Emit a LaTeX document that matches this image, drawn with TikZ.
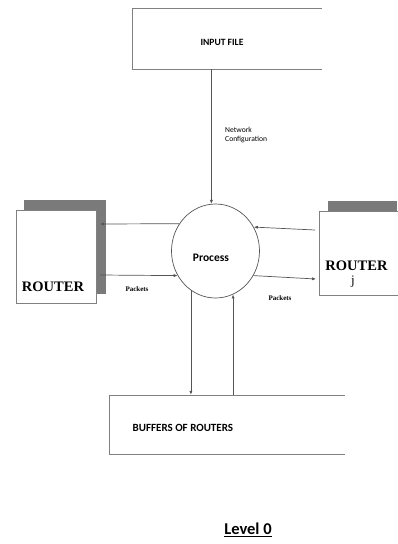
\documentclass[tikz,border=0pt]{standalone}
\usepackage{fontspec}
\setmainfont{Liberation Serif}
\newfontfamily\calib{Carlito}
\usetikzlibrary{arrows.meta,shapes.geometric}
\definecolor{linegray}{HTML}{555555}
\definecolor{boxgray}{HTML}{808080}
\definecolor{shadowgray}{HTML}{7A7A7A}
\tikzset{
  flow/.style={draw=linegray, line width=0.7pt, -{Latex[length=4pt,width=3.2pt]}},
  storeline/.style={draw=boxgray, line width=0.8pt},
  sanslabel/.style={font=\calib\bfseries\fontsize{9.6}{10}\selectfont, inner sep=0pt},
  smalllabel/.style={font=\calib\fontsize{7.6}{10}\selectfont, inner sep=0pt, align=left},
  pktlabel/.style={font=\bfseries\fontsize{7}{8}\selectfont, inner sep=0pt},
  routerlabel/.style={font=\bfseries\fontsize{14.5}{15}\selectfont, inner sep=0pt},
}
\begin{document}
\begin{tikzpicture}[x=1pt,y=-1pt]
\useasboundingbox (0,0) rectangle (397,544);
% input file store
\node[minimum width=190pt, minimum height=61pt, inner sep=0pt] (input) at (227,38.5) {};
\draw[storeline] (322,8) -- (132,8) -- (132,69) -- (322,69);
\node[sanslabel] (inputtext) at (222,42) {INPUT FILE};
% buffer store
\node[minimum width=236pt, minimum height=59pt, inner sep=0pt] (buffer) at (227,424.5) {};
\draw[storeline] (345,395) -- (109,395) -- (109,454) -- (345,454);
\node[sanslabel, font=\calib\bfseries\fontsize{11}{12}\selectfont, anchor=west] (buftext) at (132.5,427.5) {BUFFERS OF ROUTERS};
% process
\node[ellipse, draw=linegray, line width=0.7pt, minimum width=88pt, minimum height=94pt, inner sep=0pt] (proc) at (215.5,251) {};
\node[font=\calib\bfseries\fontsize{11.5}{12}\selectfont, inner sep=0pt] (proctext) at (211,258) {Process};
% left router
\fill[shadowgray] (24,200) rectangle (106,294);
\node[draw=boxgray, fill=white, line width=0.8pt, minimum width=80pt, minimum height=93pt, inner sep=0pt] (lrouter) at (56,256.5) {};
\node[routerlabel] (lrtext) at (53,287) {ROUTER};
% right router
\fill[shadowgray] (328,201) rectangle (397,211);
\node[minimum width=78pt, minimum height=84pt, inner sep=0pt] (rrouter) at (358,253) {};
\draw[draw=boxgray, line width=0.8pt] (400,211) -- (319,211) -- (319,295) -- (400,295);
\node[routerlabel] (rrtext) at (356.5,266) {ROUTER};
\node[font=\fontsize{13}{14}\selectfont, inner sep=0pt] (rrj) at (353,282) {j};
% connectors
\coordinate (lin) at (100,224);
\coordinate (lout) at (100,275);
\coordinate (rin) at (315,230);
\coordinate (rout) at (316,279);
\draw[flow] (input.south -| proc.95) -- (proc.95);
\draw[flow] (proc.143) -- (lin);
\draw[flow] (lout) -- (proc.213);
\draw[flow] (rin) -- (proc.32);
\draw[flow] (proc.-33) -- (rout);
\draw[flow] (proc.238.5) -- (proc.238.5 |- buffer.north);
\draw[flow] (proc.-68.5 |- buffer.north) -- (proc.-68.5);
% labels
\node[smalllabel, anchor=north west] (netcfg) at (225,127) {Network\\[-0.5pt]Configuration};
\node[pktlabel] (pkt1) at (137,289) {Packets};
\node[pktlabel] (pkt2) at (280,298) {Packets};
% title
\node[font=\calib\bfseries\fontsize{16.5}{17}\selectfont, inner sep=1pt] (title) at (248,530) {\underline{Level 0}};
\end{tikzpicture}
\end{document}
